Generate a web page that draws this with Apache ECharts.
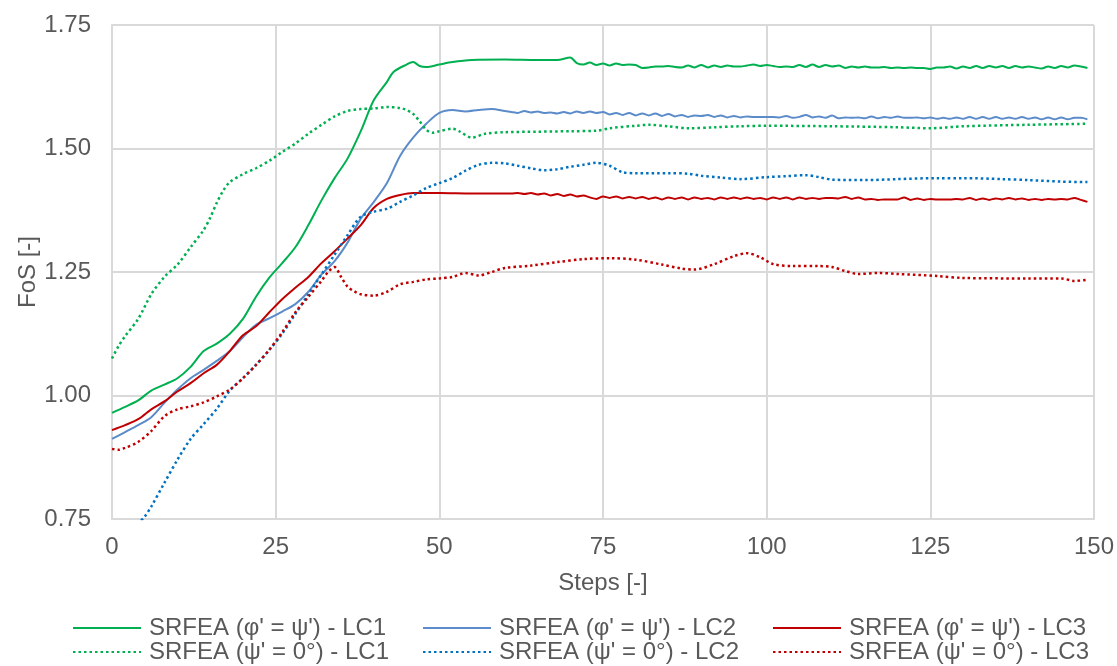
<!DOCTYPE html>
<html>
<head>
<meta charset="utf-8">
<script src="https://cdn.jsdelivr.net/npm/echarts@6/dist/echarts.min.js"></script>
<style>
  html, body { margin: 0; padding: 0; background: #fff; }
  #chart { width: 1117px; height: 666px; }
</style>
</head>
<body>
<div id="chart"></div>
<script>
// x ticks / y ticks
const xTicks = [0, 25, 50, 75, 100, 125, 150];
const yTicks = [0.75, 1.00, 1.25, 1.50, 1.75];

const seriesNames = [
    "SRFEA (φ' = ψ') - LC1",
    "SRFEA (φ' = ψ') - LC2",
    "SRFEA (φ' = ψ') - LC3",
    "SRFEA (ψ' = 0°) - LC1",
    "SRFEA (ψ' = 0°) - LC2",
    "SRFEA (ψ' = 0°) - LC3"
];

// [step, FoS]
const lc1Assoc = [
    [0,0.965],[2,0.977],[4,0.99],[6,1.01],[8,1.022],[10,1.035],[12,1.058],[14,1.09],[16,1.105],[18,1.125],
    [20,1.155],[22,1.2],[24,1.238],[26,1.268],[28,1.3],[30,1.345],[32,1.395],[34,1.44],[36,1.48],[38,1.535],
    [40,1.598],[42,1.635],[43,1.655],[45,1.67],[46,1.675],[47,1.667],[48,1.665],[50,1.67],[52,1.675],[55,1.679],
    [60,1.68],[65,1.679],[68,1.679],[70,1.684],[71,1.673],
    [72,1.670],[73,1.674],[74,1.669],[75,1.672],[76,1.668],[77,1.672],[78,1.669],[79,1.670],[80,1.669],[81,1.663],
    [82,1.664],[83,1.666],[84,1.666],[85,1.667],[86,1.665],[87,1.664],[88,1.668],[89,1.664],[90,1.669],[91,1.664],
    [92,1.668],[93,1.665],[94,1.668],[95,1.666],[96,1.666],[97,1.668],[98,1.670],[99,1.667],[100,1.669],[101,1.667],
    [102,1.665],[103,1.666],[104,1.665],[105,1.669],[106,1.665],[107,1.670],[108,1.665],[109,1.669],[110,1.666],[111,1.668],
    [112,1.663],[113,1.666],[114,1.664],[115,1.666],[116,1.664],[117,1.664],[118,1.665],[119,1.663],[120,1.664],[121,1.663],
    [122,1.664],[123,1.663],[124,1.663],[125,1.661],[126,1.664],[127,1.664],[128,1.666],[129,1.662],[130,1.666],[131,1.663],
    [132,1.667],[133,1.663],[134,1.667],[135,1.664],[136,1.667],[137,1.663],[138,1.667],[139,1.664],[140,1.666],[141,1.664],
    [142,1.662],[143,1.666],[144,1.663],[145,1.667],[146,1.664],[147,1.668],[148,1.666],[149,1.663]
];

const lc2Assoc = [
    [0,0.912],[2,0.926],[4,0.94],[6,0.956],[8,0.985],[10,1.012],[12,1.035],[14,1.052],[16,1.07],[18,1.09],
    [20,1.118],[22,1.143],[24,1.156],[26,1.17],[28,1.185],[30,1.21],[32,1.245],[34,1.272],[36,1.31],[38,1.358],
    [40,1.392],[42,1.43],[44,1.485],[46,1.522],[48,1.55],[50,1.572],[52,1.578],[54,1.575],[56,1.578],[58,1.58],[60,1.576],
    [61,1.574],[62,1.572],[63,1.576],[64,1.573],[65,1.575],[66,1.572],[67,1.573],[68,1.571],[69,1.574],[70,1.571],
    [71,1.575],[72,1.572],[73,1.575],[74,1.572],[75,1.574],[76,1.569],[77,1.572],[78,1.568],[79,1.572],[80,1.567],
    [81,1.571],[82,1.567],[83,1.571],[84,1.566],[85,1.570],[86,1.565],[87,1.568],[88,1.564],[89,1.567],[90,1.566],
    [91,1.568],[92,1.564],[93,1.567],[94,1.563],[95,1.566],[96,1.563],[97,1.565],[98,1.564],[99,1.564],[100,1.564],
    [101,1.564],[102,1.563],[103,1.566],[104,1.562],[105,1.564],[106,1.568],[107,1.563],[108,1.565],[109,1.562],[110,1.567],
    [111,1.561],[112,1.563],[113,1.562],[114,1.563],[115,1.561],[116,1.565],[117,1.561],[118,1.564],[119,1.562],[120,1.565],
    [121,1.562],[122,1.562],[123,1.563],[124,1.561],[125,1.563],[126,1.560],[127,1.562],[128,1.560],[129,1.563],[130,1.560],
    [131,1.564],[132,1.560],[133,1.564],[134,1.560],[135,1.564],[136,1.560],[137,1.563],[138,1.560],[139,1.564],[140,1.560],
    [141,1.563],[142,1.559],[143,1.563],[144,1.559],[145,1.563],[146,1.559],[147,1.562],[148,1.562],[149,1.559]
];

const lc3Assoc = [
    [0,0.93],[2,0.94],[4,0.952],[6,0.972],[8,0.988],[10,1.008],[12,1.025],[14,1.045],[16,1.062],[18,1.09],
    [20,1.122],[22,1.14],[24,1.168],[26,1.195],[28,1.218],[30,1.24],[32,1.268],[34,1.292],[36,1.318],[38,1.345],
    [40,1.38],[42,1.398],[44,1.406],[46,1.41],[50,1.41],[55,1.409],[60,1.409],
    [61,1.409],[62,1.410],[63,1.408],[64,1.410],[65,1.407],[66,1.409],[67,1.405],[68,1.408],[69,1.404],[70,1.407],
    [71,1.403],[72,1.405],[73,1.401],[74,1.398],[75,1.403],[76,1.400],[77,1.403],[78,1.399],[79,1.402],[80,1.399],
    [81,1.402],[82,1.398],[83,1.401],[84,1.397],[85,1.401],[86,1.398],[87,1.401],[88,1.397],[89,1.401],[90,1.398],
    [91,1.400],[92,1.397],[93,1.401],[94,1.398],[95,1.401],[96,1.398],[97,1.401],[98,1.398],[99,1.400],[100,1.397],
    [101,1.401],[102,1.398],[103,1.401],[104,1.397],[105,1.401],[106,1.398],[107,1.400],[108,1.398],[109,1.400],[110,1.400],
    [111,1.399],[112,1.402],[113,1.398],[114,1.401],[115,1.397],[116,1.398],[117,1.396],[118,1.397],[119,1.397],[120,1.397],
    [121,1.401],[122,1.396],[123,1.399],[124,1.396],[125,1.398],[126,1.397],[127,1.397],[128,1.397],[129,1.398],[130,1.397],
    [131,1.400],[132,1.396],[133,1.399],[134,1.396],[135,1.399],[136,1.397],[137,1.400],[138,1.397],[139,1.399],[140,1.396],
    [141,1.398],[142,1.396],[143,1.398],[144,1.397],[145,1.398],[146,1.397],[147,1.400],[148,1.396],[149,1.392]
];

const lc1Zero = [
    [0,1.075],[1,1.10],[2,1.12],[4,1.155],[6,1.205],[8,1.24],[10,1.265],[12,1.30],[14,1.335],[15,1.36],
    [16,1.39],[17,1.415],[18,1.432],[20,1.448],[22,1.46],[24,1.475],[26,1.493],[28,1.51],[30,1.53],[32,1.548],
    [34,1.565],[36,1.576],[38,1.58],[40,1.581],[42,1.584],[44,1.582],[45,1.578],[46,1.57],[47,1.555],[48,1.538],
    [49,1.532],[50,1.535],[52,1.54],[53,1.535],[55,1.522],[57,1.53],[60,1.533],[65,1.534],[70,1.535],[74,1.536],
    [76,1.541],[80,1.546],[82,1.548],[85,1.545],[88,1.541],[92,1.543],[96,1.545],[100,1.546],[110,1.545],[120,1.543],
    [125,1.541],[130,1.545],[140,1.548],[149,1.55]
];

const lc2Zero = [
    [0,0.64],[2,0.69],[4,0.74],[5,0.755],[6,0.775],[8,0.823],[10,0.87],[12,0.912],[14,0.942],[16,0.973],
    [18,1.01],[20,1.035],[22,1.062],[24,1.092],[26,1.125],[28,1.165],[30,1.205],[32,1.245],[34,1.285],[36,1.325],
    [38,1.362],[40,1.372],[42,1.378],[44,1.392],[46,1.405],[48,1.42],[50,1.43],[52,1.44],[54,1.455],[56,1.467],
    [58,1.471],[60,1.47],[62,1.465],[64,1.46],[66,1.456],[68,1.458],[70,1.463],[72,1.467],[74,1.471],[76,1.465],
    [78,1.452],[80,1.45],[85,1.45],[88,1.449],[90,1.445],[93,1.441],[96,1.438],[100,1.442],[103,1.444],[106,1.446],
    [108,1.442],[110,1.437],[115,1.436],[120,1.438],[126,1.44],[130,1.44],[136,1.438],[140,1.436],[145,1.433],[149,1.432]
];

const lc3Zero = [
    [0,0.892],[1,0.89],[2,0.894],[4,0.906],[6,0.928],[8,0.958],[10,0.972],[12,0.978],[14,0.986],[16,0.998],
    [18,1.012],[20,1.035],[22,1.062],[24,1.092],[26,1.128],[28,1.168],[30,1.2],[32,1.232],[33,1.25],[34,1.26],
    [35,1.24],[36,1.22],[37,1.211],[38,1.205],[40,1.202],[42,1.21],[44,1.225],[46,1.23],[48,1.235],[50,1.237],
    [52,1.24],[54,1.248],[56,1.243],[58,1.25],[60,1.258],[64,1.263],[68,1.27],[72,1.276],[76,1.278],[80,1.275],
    [84,1.265],[87,1.257],[89,1.255],[92,1.266],[95,1.282],[97,1.288],[99,1.28],[101,1.266],[104,1.262],[108,1.262],
    [110,1.26],[112,1.252],[114,1.246],[117,1.248],[120,1.246],[126,1.242],[130,1.238],[140,1.237],[145,1.237],[147,1.232],
    [149,1.234]
];

const colors = ['#00B050', '#5B8BC9', '#C00000', '#00B050', '#0070C0', '#C00000'];
const dataSets = [lc1Assoc, lc2Assoc, lc3Assoc, lc1Zero, lc2Zero, lc3Zero];

const chart = echarts.init(document.getElementById('chart'));
const font = 'Liberation Sans, Arial, sans-serif';

const series = dataSets.map((d, i) => ({
    name: seriesNames[i],
    type: 'line',
    data: d,
    symbol: 'none',
    smooth: 0.3,
    clip: true,
    lineStyle: {
        color: colors[i],
        width: i < 3 ? 2 : 2.5,
        type: i < 3 ? 'solid' : [2.5, 3],
        cap: 'butt'
    },
    itemStyle: {color: colors[i]}
}));

// one legend per item, laid out in a 3 x 2 grid like the original
const legendLeft = [72, 422, 772];
const legendTop = [616, 640];
const legends = seriesNames.map((n, i) => ({
    left: legendLeft[i % 3],
    top: legendTop[Math.floor(i / 3)],
    itemWidth: 68,
    itemHeight: 14,
    padding: 0,
    data: [n],
    itemStyle: {opacity: 0},
    textStyle: {fontFamily: font, fontSize: 24, color: '#595959', padding: [0, 0, 0, 3]}
}));

const option = {
    backgroundColor: '#fff',
    animation: false,
    grid: {left: 112, right: 22, top: 25, bottom: 147},
    legend: legends,
    xAxis: {
        type: 'value',
        min: xTicks[0],
        max: xTicks[xTicks.length - 1],
        interval: 25,
        name: 'Steps [-]',
        nameLocation: 'middle',
        nameGap: 52,
        nameTextStyle: {fontFamily: font, fontSize: 24, color: '#595959'},
        axisLine: {show: true, lineStyle: {color: '#D9D9D9', width: 2}},
        axisTick: {show: false},
        axisLabel: {fontFamily: font, fontSize: 24, color: '#595959', margin: 16},
        splitLine: {show: true, lineStyle: {color: '#D9D9D9', width: 2}}
    },
    yAxis: {
        type: 'value',
        min: yTicks[0],
        max: yTicks[yTicks.length - 1],
        interval: 0.25,
        name: 'FoS [-]',
        nameLocation: 'middle',
        nameGap: 72,
        nameMoveOverlap: false,
        nameTextStyle: {fontFamily: font, fontSize: 24, color: '#595959'},
        axisLine: {show: true, lineStyle: {color: '#D9D9D9', width: 2}},
        axisTick: {show: false},
        axisLabel: {
            fontFamily: font, fontSize: 24, color: '#595959', margin: 21,
            formatter: v => v.toFixed(2)
        },
        splitLine: {show: true, lineStyle: {color: '#D9D9D9', width: 2}}
    },
    series: series
};

chart.setOption(option);
</script>
</body>
</html>
